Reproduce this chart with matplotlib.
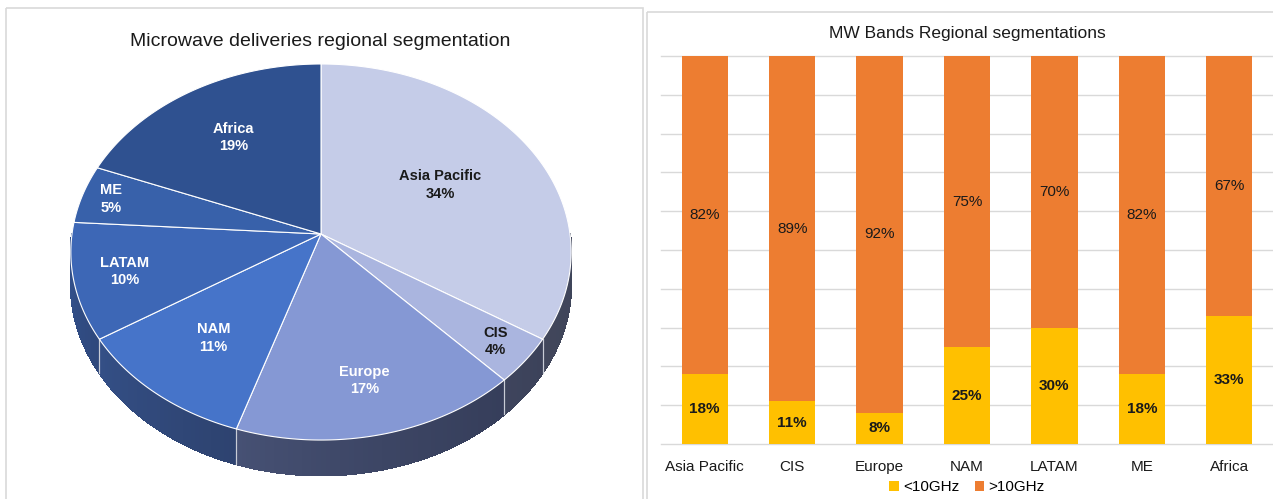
import numpy as np
import matplotlib.pyplot as plt
from matplotlib.patches import Polygon, Rectangle
from matplotlib.colors import to_rgb

plt.rcParams['font.family'] = ['Liberation Sans', 'DejaVu Sans']

# participação das entregas de micro-ondas por região (pizza)
regioes = ["Asia Pacific", "CIS", "Europe", "NAM", "LATAM", "ME", "Africa"]
participacao = [34, 4, 17, 11, 10, 5, 19]

# divisão por banda em cada região (barras empilhadas, %)
abaixo_10ghz = [18, 11, 8, 25, 30, 18, 33]
acima_10ghz = [82, 89, 92, 75, 70, 82, 67]

cores_pizza = ["#c5cce8", "#aab5df", "#8598d4", "#4674c9", "#3d67b6", "#3861aa", "#2f5190"]
cor_texto_pizza = ["#1a1a1a", "#1a1a1a", "white", "white", "white", "white", "white"]
raio_rotulo = [0.56, 0.86, 0.75, 0.67, 0.80, 0.88, 0.66]

# geometria da pizza 3D (pixels), com leve perspectiva
CX, CY = 321, 234
RX, RY = 249, 186.3
K = 0.0958
ALTURA = 32
ESCURO = np.array(to_rgb("#1e2336"))


def projetar(phi, r=1.0, queda=0.0):
    # phi em graus, sentido horário a partir do topo
    p = np.radians(phi)
    X = r * np.sin(p)
    Z = r * np.cos(p)
    w = 1.0 / (1.0 + K * Z)
    x = CX + RX * X * w
    y = CY - RY * Z * w + queda * w
    return x, y


def cor_lateral(base, x):
    # mais claro à esquerda, escurece para a direita
    s = np.clip((x - (CX - RX)) / (2 * RX), 0, 1)
    t = 0.35 + 0.45 * s ** 0.5
    return base * (1 - t) + ESCURO * t


def desenhar_pizza(ax):
    total = sum(participacao)
    angulos = np.cumsum([0] + participacao) / total * 360.0

    # laterais (só a metade da frente aparece)
    for i in range(len(participacao)):
        a0 = max(angulos[i], 90.0)
        a1 = min(angulos[i + 1], 270.0)
        if a1 <= a0:
            continue
        base = np.array(to_rgb(cores_pizza[i]))
        passos = np.linspace(a0, a1, int((a1 - a0) / 1.0) + 2)
        xs, ys = projetar(passos)
        xb, yb = projetar(passos, queda=ALTURA)
        contorno = list(zip(xs, ys)) + list(zip(xb[::-1], yb[::-1]))
        ax.add_patch(Polygon(contorno, closed=True, lw=0,
                             facecolor=cor_lateral(base, xs.mean()), zorder=1))
        for j in range(len(passos) - 1):
            cor = cor_lateral(base, (xs[j] + xs[j + 1]) / 2)
            quad = [(xs[j], ys[j]), (xs[j + 1], ys[j + 1]), (xb[j + 1], yb[j + 1]), (xb[j], yb[j])]
            ax.add_patch(Polygon(quad, closed=True, facecolor=cor, edgecolor=cor,
                                 lw=0.8, antialiased=False, zorder=2))
        for a in (angulos[i], angulos[i + 1]):
            if 90.0 < a < 270.0:
                xa, ya = projetar(a)
                xz, yz = projetar(a, queda=ALTURA)
                ax.plot([xa, xz], [ya, yz], color="#c8ccd6", lw=0.8, zorder=3)

    # tampa
    for i in range(len(participacao)):
        arco = np.linspace(angulos[i], angulos[i + 1], 200)
        xs, ys = projetar(arco)
        pts = [(CX, CY)] + list(zip(xs, ys))
        ax.add_patch(Polygon(pts, closed=True, facecolor=cores_pizza[i],
                             edgecolor="white", lw=0.8, zorder=4))

        meio = (angulos[i] + angulos[i + 1]) / 2
        xt, yt = projetar(meio, r=raio_rotulo[i])
        ax.text(xt, yt, f"{regioes[i]}\n{participacao[i]}%", ha="center", va="center",
                fontsize=10.5, fontweight="bold", color=cor_texto_pizza[i],
                linespacing=1.3, zorder=5)


fig = plt.figure(figsize=(12.73, 4.99), dpi=100)

fundo = fig.add_axes([0, 0, 1, 1])
fundo.set_xlim(0, 1273)
fundo.set_ylim(499, 0)
fundo.axis("off")

# molduras dos dois painéis
fundo.add_patch(Rectangle((6, 8), 637, 520, fill=False, edgecolor="#d9d9d9", lw=1.2))
fundo.add_patch(Rectangle((647, 12), 700, 520, fill=False, edgecolor="#d9d9d9", lw=1.2))

fundo.text(320, 41, "Microwave deliveries regional segmentation", ha="center", va="center",
           fontsize=14, color="#1a1a1a")
desenhar_pizza(fundo)

ax = fig.add_axes([661 / 1273, 55 / 499, 612 / 1273, 388 / 499])
x = np.arange(len(regioes))
barras1 = ax.bar(x, abaixo_10ghz, 0.53, color="#FFC000", label="<10GHz", zorder=3)
barras2 = ax.bar(x, acima_10ghz, 0.53, bottom=abaixo_10ghz, color="#ED7D31",
                 label=">10GHz", zorder=3)
ax.bar_label(barras1, labels=[f"{v}%" for v in abaixo_10ghz], label_type="center",
             fontsize=11, fontweight="bold", color="#1a1a1a")
ax.bar_label(barras2, labels=[f"{v}%" for v in acima_10ghz], label_type="center",
             fontsize=11, color="#1a1a1a")

ax.set_xlim(-0.5, 6.5)
ax.set_ylim(0, 100)
ax.set_yticks(range(0, 101, 10))
ax.yaxis.grid(True, color="#d9d9d9", lw=1)
for linha in ax.get_ygridlines():
    linha.set_clip_on(False)
ax.set_axisbelow(True)
ax.set_xticks(x, regioes)
ax.tick_params(left=False, labelleft=False, bottom=False, labelsize=11, pad=8,
               labelcolor="#1a1a1a")
for s in ax.spines.values():
    s.set_visible(False)
ax.set_title("MW Bands Regional segmentations", fontsize=12.5, color="#1a1a1a", pad=13)
ax.legend(loc="center", bbox_to_anchor=(0.5, -0.112), ncol=2, frameon=False,
          handlelength=0.6, handleheight=0.6, handletextpad=0.3, columnspacing=1.0,
          fontsize=11)

fig.savefig("out.png", dpi=100)
